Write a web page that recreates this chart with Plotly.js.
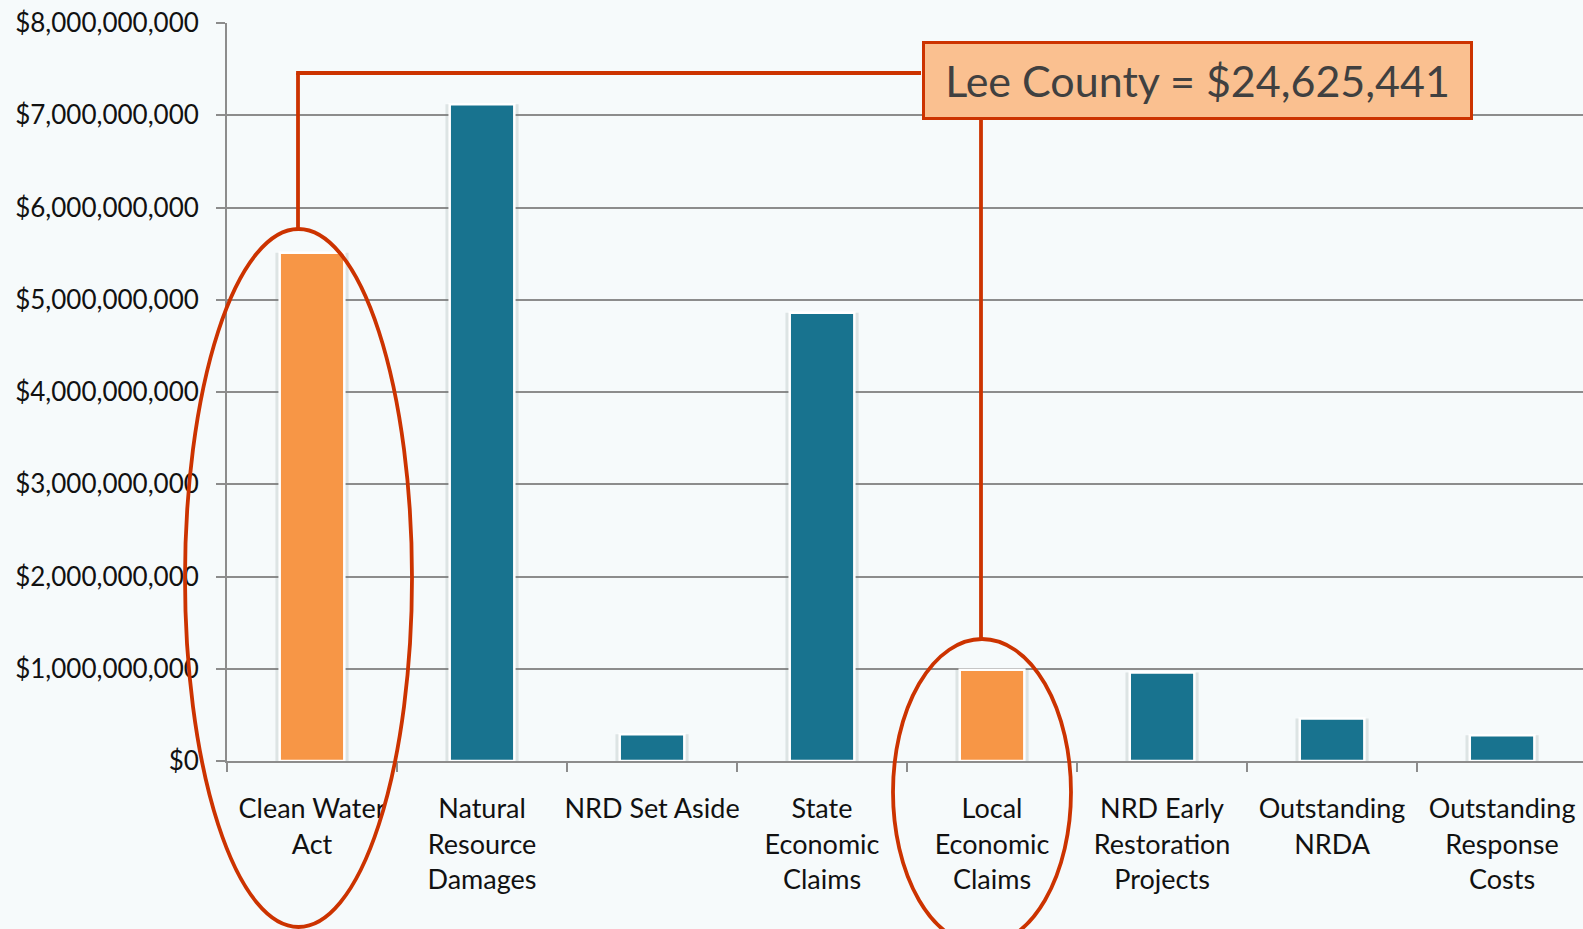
<!DOCTYPE html>
<html>
<head>
<meta charset="utf-8">
<script src="https://cdn.plot.ly/plotly-3.0.1.min.js"></script>
<style>
  html, body { margin: 0; padding: 0; background: #f6fafb; }
  #chart { width: 1583px; height: 929px; }
</style>
</head>
<body>
<div id="chart"></div>
<script>
// ---- data ----
const categories = [
  'Clean Water<br>Act',
  'Natural<br>Resource<br>Damages',
  'NRD Set Aside',
  'State<br>Economic<br>Claims',
  'Local<br>Economic<br>Claims',
  'NRD Early<br>Restoration<br>Projects',
  'Outstanding<br>NRDA',
  'Outstanding<br>Response<br>Costs'
];
const amounts = [5.51e9, 7.12e9, 0.29e9, 4.86e9, 0.99e9, 0.96e9, 0.46e9, 0.28e9];
const highlighted = [true, false, false, false, true, false, false, false];
const calloutText = 'Lee County = $24,625,441';

// ---- style ----
const TEAL = '#18738f';
const ORANGE = '#f79646';
const RED = '#cc3300';
const GRID = '#8c8c8c';
const FONT = 'Lato, "Open Sans", sans-serif';
const barColors = highlighted.map(h => h ? ORANGE : TEAL);

const shadow = {
  type: 'bar', x: categories, y: amounts, width: 0.43,
  marker: { color: 'rgba(110,125,130,0.18)', line: { width: 0 } },
  hoverinfo: 'skip', showlegend: false
};
const bars = {
  type: 'bar', x: categories, y: amounts, width: 0.38,
  marker: { color: barColors, line: { color: '#ffffff', width: 2.5 } },
  showlegend: false
};

// plot area in pixels: x 227..1583, y 23..761
const L = 227, T = 23, W = 1356, H = 738;
const px = v => (v - L) / W;
const py = v => (T + H - v) / H;

const lineStyle = { color: RED, width: 3.8 };
const shapes = [
  { type: 'circle', xref: 'paper', yref: 'paper', x0: px(185), x1: px(412), y0: py(927), y1: py(229), line: lineStyle },
  { type: 'circle', xref: 'paper', yref: 'paper', x0: px(893), x1: px(1071), y0: py(945), y1: py(639), line: lineStyle },
  { type: 'line', xref: 'paper', yref: 'paper', x0: px(298), x1: px(298), y0: py(229), y1: py(73), line: lineStyle },
  { type: 'line', xref: 'paper', yref: 'paper', x0: px(296.1), x1: px(921), y0: py(73), y1: py(73), line: lineStyle },
  { type: 'line', xref: 'paper', yref: 'paper', x0: px(981), x1: px(981), y0: py(120), y1: py(639), line: lineStyle }
];

const layout = {
  width: 1583, height: 929,
  margin: { l: L, r: 0, t: T, b: 929 - T - H, pad: 0 },
  paper_bgcolor: '#f6fafb',
  plot_bgcolor: 'rgba(0,0,0,0)',
  barmode: 'overlay',
  font: { family: FONT, size: 26, color: '#111111' },
  xaxis: {
    type: 'category',
    range: [-0.5, 7.476],
    showgrid: false, zeroline: false,
    showline: true, linecolor: GRID, linewidth: 2,
    ticks: 'outside', tickson: 'boundaries', ticklen: 9, tickwidth: 2, tickcolor: GRID,
    tickangle: 0,
    ticklabelstandoff: 23,
    tickfont: { family: FONT, size: 27, color: '#111111' },
    fixedrange: true
  },
  yaxis: {
    range: [0, 8e9],
    dtick: 1e9, tick0: 0,
    tickprefix: '$', tickformat: ',d',
    showgrid: true, gridcolor: GRID, gridwidth: 2,
    zeroline: false,
    showline: true, linecolor: GRID, linewidth: 2,
    ticks: 'outside', ticklen: 9, tickwidth: 2, tickcolor: GRID,
    ticklabelstandoff: 12,
    tickfont: { family: FONT, size: 26, color: '#111111' },
    fixedrange: true
  },
  shapes: shapes,
  annotations: [{
    xref: 'paper', yref: 'paper',
    x: px(1197), y: py(80.5), xanchor: 'center', yanchor: 'middle',
    text: calloutText, showarrow: false,
    width: 545, height: 73, borderpad: 0,
    bgcolor: '#fac090', bordercolor: RED, borderwidth: 3,
    font: { family: FONT, size: 43, color: '#404040' }
  }]
};

Plotly.newPlot('chart', [shadow, bars], layout, { displayModeBar: false, staticPlot: true });
</script>
</body>
</html>
